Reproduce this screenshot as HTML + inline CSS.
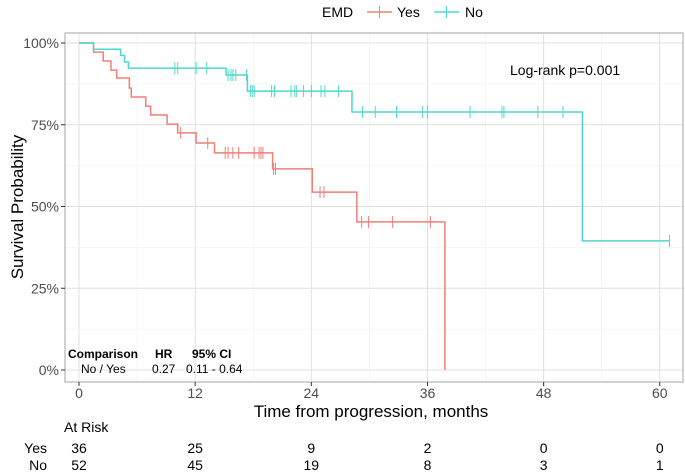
<!DOCTYPE html>
<html><head><meta charset="utf-8"><style>
body{margin:0;background:#fff}
svg{display:block;font-family:"Liberation Sans",Arial,sans-serif}
</style></head><body>
<svg id="chart" width="685" height="473" viewBox="0 0 685 473" xmlns="http://www.w3.org/2000/svg">
<g id="grid"></g>
<rect x="65" y="33" width="618" height="349" fill="none" stroke="#b3b3b3" stroke-width="1.2"/>
<g id="marks"></g>
<g id="axes"></g>
<g font-size="14" fill="#000">
<text x="322" y="17">EMD</text>
<line x1="367" y1="12" x2="392" y2="12" stroke="#f07f78" stroke-width="1.5"/>
<line x1="379.5" y1="6" x2="379.5" y2="18" stroke="#f07f78" stroke-width="1"/>
<text x="397" y="17">Yes</text>
<line x1="434" y1="12" x2="459" y2="12" stroke="#4fd8cc" stroke-width="1.5"/>
<line x1="446.5" y1="6" x2="446.5" y2="18" stroke="#4fd8cc" stroke-width="1"/>
<text x="465" y="17">No</text>
</g>
<text x="510" y="75" font-size="14">Log-rank p=0.001</text>
<g font-size="12">
<text x="68" y="358" font-weight="bold">Comparison</text>
<text x="155" y="358" font-weight="bold">HR</text>
<text x="192" y="358" font-weight="bold">95% CI</text>
<text x="81" y="373">No / Yes</text>
<text x="152" y="373">0.27</text>
<text x="186" y="373">0.11 - 0.64</text>
</g>
<text transform="translate(23,207) rotate(-90)" text-anchor="middle" font-size="17">Survival Probability</text>
<text x="371" y="417" text-anchor="middle" font-size="17">Time from progression, months</text>
<text x="64" y="432" font-size="14">At Risk</text>
<g id="risk" font-size="14"></g>
</svg>
<script>
const xTicks=[0,12,24,36,48,60];
const yTicks=[0,0.25,0.5,0.75,1];
const yTickLabels=["0%","25%","50%","75%","100%"];
const yesTimes=[0,1.5,2.5,3.3,3.9,5.2,5.4,6.9,7.4,9.1,10.2,12.1,14.0,20.0,24.1,28.7,37.8];
const yesSurv=[1,0.972,0.945,0.917,0.893,0.862,0.835,0.807,0.78,0.752,0.725,0.694,0.664,0.615,0.544,0.453,0];
const yesCensor=[10.5,13.3,15.1,15.4,15.9,16.5,18.1,18.6,18.8,19.0,20.1,20.3,24.9,25.3,29.2,29.9,32.4,36.3];
const noTimes=[0,1.5,4.3,4.7,5.1,15.2,17.4,28.2,52.0];
const noSurv=[1,0.981,0.962,0.942,0.923,0.902,0.853,0.789,0.395];
const noCensor=[9.9,10.2,12.1,13.2,15.4,15.7,15.9,16.2,17.3,17.7,17.9,18.1,19.9,20.2,21.9,22.3,22.5,23.2,24.0,25.0,25.4,26.8,29.3,30.6,32.8,35.5,36.0,40.4,43.7,43.9,47.4,50.0,61.0];
const riskTimes=[0,12,24,36,48,60];
const riskYes=[36,25,9,2,0,0];
const riskNo=[52,45,19,8,3,1];
const NS="http://www.w3.org/2000/svg";
const X=t=>79+t*9.68, Y=s=>370-s*327;
function mk(tag,attrs,parent){const e=document.createElementNS(NS,tag);for(const k in attrs)e.setAttribute(k,attrs[k]);parent.appendChild(e);return e;}
const grid=document.getElementById('grid'),axes=document.getElementById('axes'),marks=document.getElementById('marks'),risk=document.getElementById('risk');
for(let t=0;t<=66;t+=6){if(X(t)>683)break;const g=mk('line',{x1:X(t),x2:X(t),y1:33,y2:382,stroke:t%12?'#efefef':'#e0e0e0','stroke-width':t%12?0.6:1},grid);

}
for(let s=0;s<=1.001;s+=0.125){const g=mk('line',{x1:65,x2:683,y1:Y(s),y2:Y(s),stroke:(Math.round(s*8)%2)?'#efefef':'#e0e0e0','stroke-width':(Math.round(s*8)%2)?0.6:1},grid);

}
xTicks.forEach(t=>{mk('line',{x1:X(t),x2:X(t),y1:382,y2:386,stroke:'#333'},axes);
const l=mk('text',{x:X(t),y:398,'text-anchor':'middle','font-size':14,fill:'#4d4d4d'},axes);l.textContent=t;

});
yTicks.forEach((s,i)=>{mk('line',{x1:61,x2:65,y1:Y(s),y2:Y(s),stroke:'#333'},axes);
const l=mk('text',{x:59,y:Y(s)+5,'text-anchor':'end','font-size':14,fill:'#4d4d4d'},axes);l.textContent=yTickLabels[i];

});
function stepAt(ts,ss,t){let v=ss[0];for(let i=0;i<ts.length;i++)if(ts[i]<=t)v=ss[i];return v;}
function curve(ts,ss,cs,col,name,end){let d=`M${X(ts[0])},${Y(ss[0])}`;
for(let i=1;i<ts.length;i++){d+=`H${X(ts[i])}V${Y(ss[i])}`;}
if(end!==undefined)d+=`H${X(end)}`;
const p=mk('path',{d:d,fill:'none',stroke:col,'stroke-width':1.5},marks);


cs.forEach(t=>{const y=Y(stepAt(ts,ss,t));const c=mk('line',{x1:X(t),x2:X(t),y1:y-6,y2:y+6,stroke:col,'stroke-width':1},marks);

});}
curve(yesTimes,yesSurv,yesCensor,'#f07f78','yes');
curve(noTimes,noSurv,noCensor,'#4fd8cc','no',61.0);
[['Yes',riskYes,453],['No',riskNo,470]].forEach(([lab,arr,y])=>{
const l=mk('text',{x:47,y:y,'text-anchor':'end'},risk);l.textContent=lab;


arr.forEach((v,i)=>{const t=mk('text',{x:X(riskTimes[i]),y:y,'text-anchor':'middle'},risk);t.textContent=v;

});});
</script>
</body></html>
